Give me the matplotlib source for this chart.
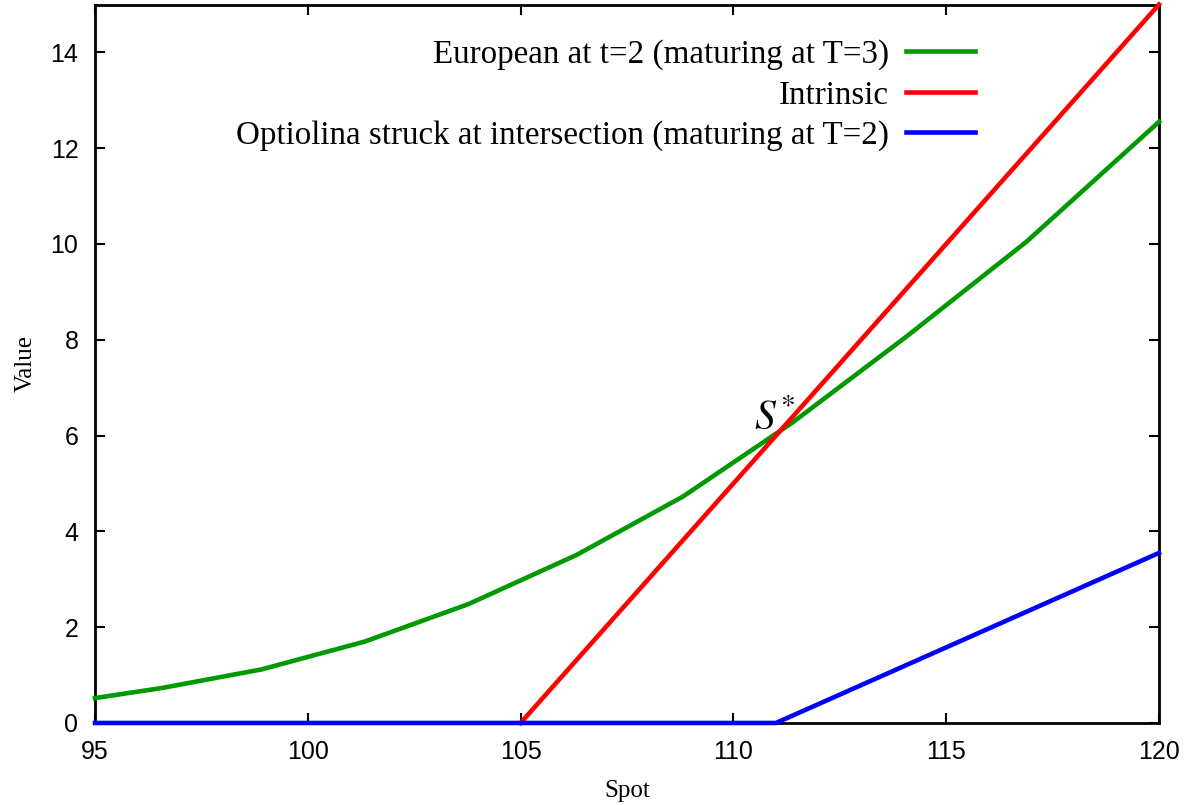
import matplotlib
matplotlib.use("Agg")
import matplotlib.pyplot as plt

# European option at t=2 (maturing at T=3)
spot_eu = [95.0, 96.57, 98.92, 101.34, 103.77, 106.32, 108.82, 111.4, 114.07, 116.89, 120.0]
val_eu = [0.52, 0.73, 1.12, 1.70, 2.48, 3.51, 4.73, 6.28, 8.07, 10.05, 12.55]

# intrinsic value, strike 105
spot_int = [105.0, 120.0]
val_int = [0.0, 15.0]

# optiolina struck at intersection
spot_opt = [95.0, 111.0, 120.0]
val_opt = [0.0, 0.0, 3.55]

serif = ["Liberation Serif", "DejaVu Serif"]
sans = ["Liberation Sans", "DejaVu Sans"]

fig = plt.figure(figsize=(11.91, 8.05), dpi=100)
ax = fig.add_axes([0.0798, 0.1019, 0.9731 - 0.0798, 0.9944 - 0.1019])

lw = 3.3
ax.plot(spot_eu, val_eu, color="#009900", lw=lw, clip_on=False, zorder=3,
        label="European at t=2 (maturing at T=3)")
ax.plot(spot_int, val_int, color="#ff0000", lw=lw, clip_on=False, zorder=3,
        label="Intrinsic")
ax.plot(spot_opt, val_opt, color="#0000ff", lw=lw, clip_on=False, zorder=3,
        label="Optiolina struck at intersection (maturing at T=2)")

ax.text(110.48, 6.12, r"$S^{\!*}$", fontsize=30, ha="left", va="baseline",
        family=serif, math_fontfamily="stix")

ax.set_xlim(95, 120)
ax.set_ylim(0, 15)
ax.set_xticks([95, 100, 105, 110, 115, 120])
ax.set_yticks([0, 2, 4, 6, 8, 10, 12, 14])
ax.tick_params(direction="in", length=7, width=1.5, top=True, right=True,
               labelsize=18, pad=12)
for lab in ax.get_xticklabels() + ax.get_yticklabels():
    lab.set_family(sans)
for s in ax.spines.values():
    s.set_linewidth(2)

ax.set_xlabel("Spot", family=serif, fontsize=18, labelpad=12)
ax.set_ylabel("Value", family=serif, fontsize=18, labelpad=10)

leg = ax.legend(loc="upper right", bbox_to_anchor=(0.855, 0.993), frameon=False,
                markerfirst=False, prop={"family": serif, "size": 23.8},
                handlelength=2.1, handletextpad=0.5, labelspacing=0.3)
for t in leg.get_texts():
    t.set_ha("right")
leg._legend_box.align = "right"

fig.savefig("out.png", dpi=100)
